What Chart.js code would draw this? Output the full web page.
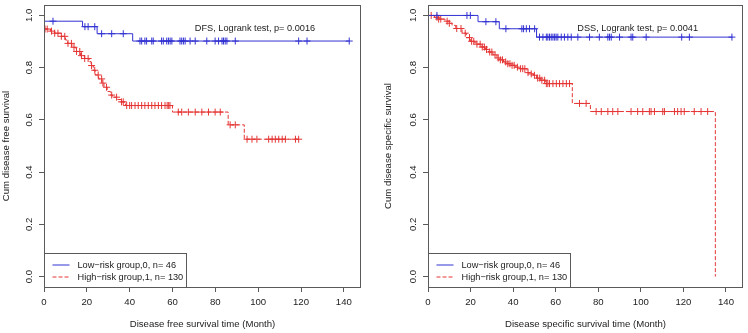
<!DOCTYPE html>
<html><head><meta charset="utf-8">
<script src="https://cdn.jsdelivr.net/npm/chart.js@4.4.0/dist/chart.umd.min.js"></script>
<style>html,body{margin:0;padding:0;background:#fff;}.wrap{display:flex;width:748px;height:333px;}canvas{display:block;}</style>
</head><body><div class="wrap"><canvas id="c1" width="374" height="333"></canvas><canvas id="c2" width="374" height="333"></canvas></div>
<script>
// ---- data ----
const xTicks = [0, 20, 40, 60, 80, 100, 120, 140];
const yTicks = [0, 0.2, 0.4, 0.6, 0.8, 1.0];
const groupLabels = ['Low\u2212risk group,0, n= 46', 'High\u2212risk group,1, n= 130'];

// DFS panel
const dfsLowTimes = [0, 18, 24.8, 41.4, 142.5];
const dfsLowSurv  = [0.978, 0.957, 0.930, 0.902, 0.902];
const dfsLowCensor = [4.2, 19.1, 20.6, 23.7, 26.9, 31.6, 37, 44.8, 45.6, 47.1, 47.9, 50.3, 51, 54.9, 55.7, 57.3, 58.1, 58.9, 59.7, 63.5, 64.3, 65.1, 65.9, 68.2, 70.6, 76, 79.9, 81.5, 83.1, 83.8, 84.6, 85.4, 89.3, 118.9, 122.8, 142.5];
const dfsHighTimes = [0, 3, 5, 8, 10, 11, 13, 15, 17, 19, 21, 22, 23, 24, 25.5, 27, 28, 29.5, 31, 32, 34, 36, 38, 60, 86, 93.5, 119];
const dfsHighSurv  = [0.948, 0.94, 0.932, 0.92, 0.906, 0.893, 0.878, 0.862, 0.846, 0.835, 0.823, 0.808, 0.79, 0.772, 0.757, 0.741, 0.725, 0.709, 0.695, 0.687, 0.678, 0.669, 0.655, 0.630, 0.581, 0.526, 0.526];
const dfsHighCensor = [0.5, 1.5, 3.5, 5, 6.5, 8.1, 9.7, 11.2, 12.8, 14, 15.2, 16.7, 17.5, 19, 20.6, 22.2, 23.7, 25.3, 26.9, 27.5, 29.2, 31.6, 33.9, 36.2, 37, 38.6, 40, 40.9, 42.5, 44, 45.6, 47.1, 48.7, 50.3, 51.8, 53.4, 54.9, 56.5, 57.5, 58.2, 58.8, 62.7, 64.3, 67.4, 70.6, 73.7, 76.8, 79.9, 82.3, 86.9, 89.3, 94.8, 97.1, 99.4, 104.9, 106.5, 108, 109.6, 111.2, 112.7, 117.4, 118.9];

// DSS panel
const dssLowTimes = [0, 23.5, 33.5, 51, 143];
const dssLowSurv  = [1.0, 0.976, 0.949, 0.917, 0.917];
const dssLowCensor = [4.2, 18.3, 19.9, 27.2, 31.9, 36.6, 44.1, 44.9, 46.2, 47.7, 50.1, 52.4, 54, 55.6, 56.3, 57.1, 57.9, 58.7, 59.5, 60.2, 61, 62.6, 64.1, 65.7, 67.3, 70.4, 75.9, 80.5, 84.5, 85.3, 86.1, 90, 95.4, 96.2, 102.5, 119.2, 122.8, 142.8];
const dssHighTimes = [0, 3, 5, 8, 10, 11.3, 13, 16, 18, 19.9, 22, 23, 25.3, 27, 28.5, 30.5, 32.4, 34, 35.5, 37, 38.7, 41, 43.4, 46.5, 48, 49.6, 51, 52.7, 55.1, 67.8, 76.3, 135];
const dssHighSurv  = [1.0, 0.993, 0.986, 0.978, 0.97, 0.962, 0.95, 0.932, 0.915, 0.901, 0.895, 0.89, 0.879, 0.87, 0.86, 0.849, 0.837, 0.83, 0.822, 0.815, 0.809, 0.802, 0.796, 0.781, 0.776, 0.771, 0.76, 0.752, 0.739, 0.663, 0.632, 0.0];
const dssHighCensor = [1.5, 4.2, 5, 6, 9, 10, 13.5, 15.5, 17.5, 19.5, 20.5, 21.5, 23, 24.5, 25.5, 26.5, 27.5, 29, 30, 31.5, 33, 34, 35, 36.5, 37.5, 38.5, 39.5, 40.5, 42, 43.5, 44.5, 45.5, 47, 48.5, 50, 51.5, 52.5, 53.5, 54.8, 55.6, 56.3, 57.1, 58.7, 60.3, 61.8, 63.4, 65, 66.5, 71.2, 74.3, 79, 81.4, 84.5, 86.8, 89.2, 95.4, 98.5, 100.9, 104, 104.8, 106.4, 110.3, 111.1, 115.8, 117.3, 118.9, 120.4, 125.1, 128.3, 131.4];

// ---- styling ----
const BLUE = '#3232d2';
const RED = '#e53535';
const AXIS = '#5a5a5a';
const TEXT = '#222';
const FONT = '"Liberation Sans", Arial, Helvetica, sans-serif';

function stepValue(times, vals, t) {
  let v = vals[0];
  for (let i = 0; i < times.length; i++) if (times[i] <= t) v = vals[i];
  return v;
}

const decor = {
  id: 'decor',
  afterDraw(chart) {
    const o = chart.options.plugins.decor;
    const {ctx, chartArea: a, scales: {x, y}} = chart;
    ctx.save();
    // box
    ctx.strokeStyle = AXIS; ctx.lineWidth = 1; ctx.setLineDash([]);
    ctx.strokeRect(Math.round(a.left) + 0.5, Math.round(a.top) + 0.5, Math.round(a.right - a.left) - 1, Math.round(a.bottom - a.top));
    // y tick labels (rotated, R style)
    ctx.fillStyle = TEXT;
    ctx.font = '9.6px ' + FONT;
    ctx.textAlign = 'center'; ctx.textBaseline = 'middle';
    y.ticks.forEach(t => {
      const py = y.getPixelForValue(t.value);
      ctx.save(); ctx.translate(a.left - 15, py); ctx.rotate(-Math.PI / 2);
      ctx.fillText(t.value.toFixed(1), 0, 0); ctx.restore();
    });
    // annotation
    ctx.font = '9.2px ' + FONT;
    ctx.fillText(o.note, x.getPixelForValue(98.5), y.getPixelForValue(0.952));
    // legend
    const L = Math.round(a.left) + 0.5, B = Math.round(a.bottom) + 0.5;
    const W = 142, H = 34;
    ctx.fillStyle = '#fff';
    ctx.fillRect(L, B - H, W, H);
    ctx.strokeStyle = AXIS;
    ctx.strokeRect(L, B - H, W, H);
    const rows = [{c: BLUE, d: [], yy: B - 22.5}, {c: RED, d: [4, 2], yy: B - 10.5}];
    rows.forEach((r, i) => {
      ctx.strokeStyle = r.c; ctx.setLineDash(r.d); ctx.beginPath();
      ctx.moveTo(L + 8, r.yy); ctx.lineTo(L + 25, r.yy); ctx.stroke();
      ctx.setLineDash([]);
      ctx.fillStyle = TEXT; ctx.textAlign = 'left'; ctx.textBaseline = 'middle';
      ctx.fillText(chart.data.datasets[i].label, L + 33, r.yy);
    });
    ctx.restore();
  }
};

function makeChart(id, cfg) {
  const datasets = [
    {label: groupLabels[0], data: cfg.lowT.map((t, i) => ({x: t, y: cfg.lowS[i]})), stepped: true,
     borderColor: BLUE, borderWidth: 1, pointRadius: 0, fill: false},
    {label: groupLabels[1], data: cfg.highT.map((t, i) => ({x: t, y: cfg.highS[i]})), stepped: true,
     borderColor: RED, borderWidth: 1, borderDash: [4, 2], pointRadius: 0, fill: false},
    {type: 'scatter', label: 'censor low', data: cfg.lowC.map(t => ({x: t, y: stepValue(cfg.lowT, cfg.lowS, t)})),
     pointStyle: 'cross', pointRadius: 3.5, borderColor: BLUE, borderWidth: 1, showLine: false},
    {type: 'scatter', label: 'censor high', data: cfg.highC.map(t => ({x: t, y: stepValue(cfg.highT, cfg.highS, t)})),
     pointStyle: 'cross', pointRadius: 3.5, borderColor: RED, borderWidth: 1, showLine: false}
  ];
  return new Chart(document.getElementById(id), {
    type: 'line',
    data: {datasets},
    options: {
      responsive: false, animation: false, events: [],
      layout: {padding: {left: 0, top: 4, right: cfg.padRight, bottom: 0}},
      plugins: {legend: {display: false}, tooltip: {enabled: false}, decor: {note: cfg.note}},
      scales: {
        x: {
          type: 'linear', min: 0, max: 148,
          afterBuildTicks: s => { s.ticks = xTicks.map(v => ({value: v})); },
          afterFit: s => { s.height = 46; },
          grid: {drawOnChartArea: false, drawTicks: true, tickLength: 5, color: AXIS, tickColor: AXIS},
          border: {display: false},
          ticks: {color: TEXT, font: {family: FONT, size: 9.6}, padding: 5, maxRotation: 0, autoSkip: false},
          title: {display: true, text: cfg.xTitle, color: TEXT, font: {family: FONT, size: 9.6}, padding: {top: 0, bottom: 3}}
        },
        y: {
          type: 'linear', min: -0.04, max: 1.04,
          afterBuildTicks: s => { s.ticks = yTicks.map(v => ({value: v})); },
          afterFit: s => { s.width = cfg.yWidth; },
          grid: {drawOnChartArea: false, drawTicks: true, tickLength: 5, color: AXIS, tickColor: AXIS},
          border: {display: false},
          ticks: {display: false},
          title: {display: true, text: cfg.yTitle, color: TEXT, font: {family: FONT, size: 9.6}, padding: {top: cfg.yTitlePad, bottom: 0}}
        }
      }
    },
    plugins: [decor]
  });
}

makeChart('c1', {
  lowT: dfsLowTimes, lowS: dfsLowSurv, lowC: dfsLowCensor,
  highT: dfsHighTimes, highS: dfsHighSurv, highC: dfsHighCensor,
  note: 'DFS, Logrank test, p= 0.0016',
  xTitle: 'Disease free survival time (Month)', yTitle: 'Cum disease free survival',
  yWidth: 44, padRight: 13, yTitlePad: 1
});
makeChart('c2', {
  lowT: dssLowTimes, lowS: dssLowSurv, lowC: dssLowCensor,
  highT: dssHighTimes, highS: dssHighSurv, highC: dssHighCensor,
  note: 'DSS, Logrank test, p= 0.0041',
  xTitle: 'Disease specific survival time (Month)', yTitle: 'Cum disease specific survival',
  yWidth: 54, padRight: 4, yTitlePad: 9
});
</script></body></html>
